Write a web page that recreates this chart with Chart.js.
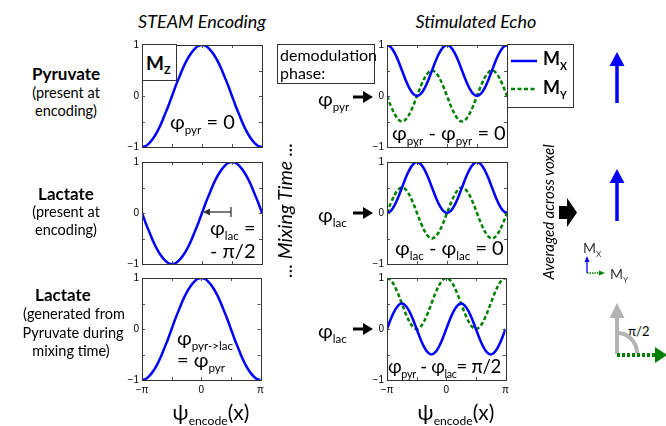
<!DOCTYPE html>
<html>
<head>
<meta charset="utf-8">
<script src="https://cdn.jsdelivr.net/npm/chart.js@4.4.1/dist/chart.umd.min.js"></script>
<style>
  body { margin: 0; background: #fff; }
  #fig { position: relative; width: 666px; height: 426px; overflow: hidden; font-family: Lato, "Open Sans", sans-serif; color: #000; }
  canvas { position: absolute; }
  .t { position: absolute; white-space: nowrap; line-height: 1; }
  .c { transform: translate(-50%, -50%); }
  .l { transform: translate(0, -50%); }
  .v { transform: translate(-50%, -50%) rotate(-90deg); font-style: italic; }
  .it { font-style: italic; }
  .b { font-weight: bold; }
  .phi { font-size: 20px; }
  sub { font-size: 58%; vertical-align: -0.45em; line-height: 0; }
  .box { position: absolute; border: 1px solid #333; background: #fff; box-sizing: border-box; }
</style>
</head>
<body>
<div id="fig">
  <canvas id="encPyr" width="150" height="127"></canvas>
  <canvas id="encLac" width="150" height="127"></canvas>
  <canvas id="encConv" width="150" height="127"></canvas>
  <canvas id="echoPyr" width="150" height="127"></canvas>
  <canvas id="echoLac" width="150" height="127"></canvas>
  <canvas id="echoConv" width="150" height="127"></canvas>

  <!-- column titles -->
  <div class="t c it" style="left:202px;top:21px;font-size:18px">STEAM Encoding</div>
  <div class="t c it" style="left:476px;top:21px;font-size:18px">Stimulated Echo</div>

  <!-- row labels -->
  <div class="t c b" style="left:66px;top:73px;font-size:17px">Pyruvate</div>
  <div class="t c" style="left:66px;top:93px;font-size:14.5px">(present at</div>
  <div class="t c" style="left:66px;top:111px;font-size:14.5px">encoding)</div>
  <div class="t c b" style="left:66px;top:193px;font-size:17px">Lactate</div>
  <div class="t c" style="left:66px;top:212px;font-size:14.5px">(present at</div>
  <div class="t c" style="left:66px;top:230px;font-size:14.5px">encoding)</div>
  <div class="t c b" style="left:63px;top:294px;font-size:17px">Lactate</div>
  <div class="t c" style="left:74px;top:314px;font-size:14.5px">(generated from</div>
  <div class="t c" style="left:73px;top:333px;font-size:14.5px">Pyruvate during</div>
  <div class="t c" style="left:71px;top:351px;font-size:14.5px">mixing time)</div>

  <!-- encoding annotations -->
  <div class="box" style="left:142px;top:44px;width:35px;height:37px"></div>
  <div class="t l b" style="left:146px;top:62px;font-size:19px">M<sub>Z</sub></div>
  <div class="t l phi" style="left:170px;top:121px">φ<sub>pyr</sub> = 0</div>
  <div class="t l phi" style="left:210px;top:227px">φ<sub>lac</sub> =</div>
  <div class="t l phi" style="left:210px;top:250px">- π/2</div>
  <div class="t l phi" style="left:177px;top:337px">φ<sub>pyr-&gt;lac</sub></div>
  <div class="t l phi" style="left:177px;top:359px">= φ<sub>pyr</sub></div>

  <!-- demodulation -->
  <div class="box" style="left:277px;top:44px;width:98px;height:40px"></div>
  <div class="t l" style="left:280px;top:55px;font-size:16px">demodulation</div>
  <div class="t l" style="left:280px;top:73px;font-size:16px">phase:</div>
  <div class="t l phi" style="left:318px;top:98px">φ<sub>pyr</sub></div>
  <div class="t l phi" style="left:318px;top:214px">φ<sub>lac</sub></div>
  <div class="t l phi" style="left:318px;top:330px">φ<sub>lac</sub></div>

  <!-- echo annotations -->
  <div class="t l phi" style="left:392px;top:132px">φ<sub>pyr</sub> - φ<sub>pyr</sub> = 0</div>
  <div class="t l phi" style="left:395px;top:247px">φ<sub>lac</sub> - φ<sub>lac</sub> = 0</div>
  <div class="t l phi" style="left:388px;top:366px;font-size:18.5px;letter-spacing:-0.3px">φ<sub>pyr</sub> - φ<sub>lac</sub>= π/2</div>

  <!-- x axis titles -->
  <div class="t c" style="left:211px;top:411px;font-size:21px">ψ<sub>encode</sub>(x)</div>
  <div class="t c" style="left:456px;top:411px;font-size:21px">ψ<sub>encode</sub>(x)</div>

  <!-- vertical labels -->
  <div class="t v" style="left:285px;top:210px;font-size:19.5px">... Mixing Time ...</div>
  <div class="t v" style="left:548px;top:212px;font-size:15px">Averaged across voxel</div>

  <!-- legend -->
  <div class="box" style="left:507px;top:44px;width:67px;height:64px"></div>
  <div class="t l b" style="left:543px;top:58px;font-size:18px">M<sub>X</sub></div>
  <div class="t l b" style="left:543px;top:87px;font-size:18px">M<sub>Y</sub></div>

  <!-- small axes / phase sketch labels -->
  <div class="t l" style="left:583px;top:248px;font-size:14px;color:#333">M<sub>X</sub></div>
  <div class="t l" style="left:610px;top:274px;font-size:14px;color:#333">M<sub>Y</sub></div>
  <div class="t l" style="left:628px;top:331px;font-size:13px">π/2</div>

  <svg width="666" height="426" style="position:absolute;left:0;top:0">
    <line x1="511" y1="61" x2="537" y2="61" stroke="#0000ff" stroke-width="2.5"/>
    <line x1="511" y1="89" x2="537" y2="89" stroke="#008000" stroke-width="2.5" stroke-dasharray="4 2.5"/>

    <line x1="353" y1="97" x2="365" y2="97" stroke="#000" stroke-width="3"/>
    <polygon points="363,91 373,97 363,103" fill="#000"/>
    <line x1="353" y1="213" x2="365" y2="213" stroke="#000" stroke-width="3"/>
    <polygon points="363,207 373,213 363,219" fill="#000"/>
    <line x1="353" y1="329" x2="365" y2="329" stroke="#000" stroke-width="3"/>
    <polygon points="363,323 373,329 363,335" fill="#000"/>

    <line x1="206" y1="212" x2="231" y2="212" stroke="#333" stroke-width="1.3"/>
    <polygon points="203,212 210,208.5 210,215.5" fill="#333"/>
    <line x1="231" y1="207" x2="231" y2="217" stroke="#333" stroke-width="1.3"/>

    <polygon points="559,206 567,206 567,198 577,212.5 567,227 567,219 559,219" fill="#000"/>

    <line x1="617" y1="103" x2="617" y2="63" stroke="#0000ff" stroke-width="3.5"/>
    <polygon points="609.5,66 617,52 624.5,66" fill="#0000ff"/>
    <line x1="617" y1="221" x2="617" y2="180" stroke="#0000ff" stroke-width="3.5"/>
    <polygon points="609.5,183 617,169 624.5,183" fill="#0000ff"/>

    <line x1="587" y1="273" x2="587" y2="261" stroke="#0000ff" stroke-width="1.3"/>
    <polygon points="584.5,262 587,256 589.5,262" fill="#0000ff"/>
    <line x1="587" y1="273" x2="600" y2="273" stroke="#008000" stroke-width="1.3" stroke-dasharray="1.5 1"/>
    <polygon points="599,270.5 605,273 599,275.5" fill="#008000"/>

    <line x1="617" y1="354" x2="617" y2="316" stroke="#b3b3b3" stroke-width="4"/>
    <polygon points="609.5,318 617,303 624.5,318" fill="#b3b3b3"/>
    <path d="M617,333 A20,20 0 0 1 637,353" stroke="#b3b3b3" stroke-width="4" fill="none"/>
    <line x1="617" y1="355" x2="656" y2="355" stroke="#008000" stroke-width="4" stroke-dasharray="3 2"/>
    <polygon points="655,347 667,355 655,363" fill="#008000"/>
  </svg>
</div>

<script>
// x positions in units of pi (-pi .. pi)
const xPi = [-1, -0.9375, -0.875, -0.8125, -0.75, -0.6875, -0.625, -0.5625, -0.5,
  -0.4375, -0.375, -0.3125, -0.25, -0.1875, -0.125, -0.0625, 0,
  0.0625, 0.125, 0.1875, 0.25, 0.3125, 0.375, 0.4375, 0.5,
  0.5625, 0.625, 0.6875, 0.75, 0.8125, 0.875, 0.9375, 1];

// STEAM encoding (Mz)
const encodePyr = [-1, -0.98, -0.92, -0.83, -0.71, -0.56, -0.38, -0.2, 0, 0.2, 0.38, 0.56, 0.71, 0.83, 0.92, 0.98, 1,
  0.98, 0.92, 0.83, 0.71, 0.56, 0.38, 0.2, 0, -0.2, -0.38, -0.56, -0.71, -0.83, -0.92, -0.98, -1];
const encodeLac = [0, -0.2, -0.38, -0.56, -0.71, -0.83, -0.92, -0.98, -1, -0.98, -0.92, -0.83, -0.71, -0.56, -0.38, -0.2, 0,
  0.2, 0.38, 0.56, 0.71, 0.83, 0.92, 0.98, 1, 0.98, 0.92, 0.83, 0.71, 0.56, 0.38, 0.2, 0];
const encodePyrToLac = [-1, -0.98, -0.92, -0.83, -0.71, -0.56, -0.38, -0.2, 0, 0.2, 0.38, 0.56, 0.71, 0.83, 0.92, 0.98, 1,
  0.98, 0.92, 0.83, 0.71, 0.56, 0.38, 0.2, 0, -0.2, -0.38, -0.56, -0.71, -0.83, -0.92, -0.98, -1];

// Stimulated echo (Mx, My)
const echoPyrMx = [1, 0.96, 0.85, 0.69, 0.5, 0.31, 0.15, 0.04, 0, 0.04, 0.15, 0.31, 0.5, 0.69, 0.85, 0.96, 1,
  0.96, 0.85, 0.69, 0.5, 0.31, 0.15, 0.04, 0, 0.04, 0.15, 0.31, 0.5, 0.69, 0.85, 0.96, 1];
const echoPyrMy = [0, -0.19, -0.35, -0.46, -0.5, -0.46, -0.35, -0.19, 0, 0.19, 0.35, 0.46, 0.5, 0.46, 0.35, 0.19, 0,
  -0.19, -0.35, -0.46, -0.5, -0.46, -0.35, -0.19, 0, 0.19, 0.35, 0.46, 0.5, 0.46, 0.35, 0.19, 0];
const echoLacMx = [0, 0.04, 0.15, 0.31, 0.5, 0.69, 0.85, 0.96, 1, 0.96, 0.85, 0.69, 0.5, 0.31, 0.15, 0.04, 0,
  0.04, 0.15, 0.31, 0.5, 0.69, 0.85, 0.96, 1, 0.96, 0.85, 0.69, 0.5, 0.31, 0.15, 0.04, 0];
const echoLacMy = [0, 0.19, 0.35, 0.46, 0.5, 0.46, 0.35, 0.19, 0, -0.19, -0.35, -0.46, -0.5, -0.46, -0.35, -0.19, 0,
  0.19, 0.35, 0.46, 0.5, 0.46, 0.35, 0.19, 0, -0.19, -0.35, -0.46, -0.5, -0.46, -0.35, -0.19, 0];
const echoConvMx = [0, 0.19, 0.35, 0.46, 0.5, 0.46, 0.35, 0.19, 0, -0.19, -0.35, -0.46, -0.5, -0.46, -0.35, -0.19, 0,
  0.19, 0.35, 0.46, 0.5, 0.46, 0.35, 0.19, 0, -0.19, -0.35, -0.46, -0.5, -0.46, -0.35, -0.19, 0];
const echoConvMy = [1, 0.96, 0.85, 0.69, 0.5, 0.31, 0.15, 0.04, 0, 0.04, 0.15, 0.31, 0.5, 0.69, 0.85, 0.96, 1,
  0.96, 0.85, 0.69, 0.5, 0.31, 0.15, 0.04, 0, 0.04, 0.15, 0.31, 0.5, 0.69, 0.85, 0.96, 1];

// axis ticks
const xTickValues = [-1, -0.5, 0, 0.5, 1];
const xTickLabels = ['−π', '', '0', '', 'π'];
const yTickValues = [-1, -0.5, 0, 0.5, 1];
const yTickLabels = ['−1', '', '0', '', '1'];

// plot area geometry (px)
const AXIS_W = 24, PAD_T = 8, PAD_R = 6, AXIS_H = 16;
const PLOT_W = 120, PLOT_H = 103;

const BLUE = '#0000ff';
const GREEN = '#008000';

// Box around the axes with small inward tick marks (MATLAB style)
const boxPlugin = {
  id: 'axesBox',
  afterDatasetsDraw(chart) {
    const { ctx, chartArea: a, scales } = chart;
    ctx.save();
    ctx.strokeStyle = '#555';
    ctx.lineWidth = 1;
    ctx.beginPath();
    xTickValues.slice(1, -1).forEach(v => {
      const px = Math.round(scales.x.getPixelForValue(v)) + 0.5;
      ctx.moveTo(px, a.top); ctx.lineTo(px, a.top + 3);
      ctx.moveTo(px, a.bottom); ctx.lineTo(px, a.bottom - 3);
    });
    yTickValues.slice(1, -1).forEach(v => {
      const py = Math.round(scales.y.getPixelForValue(v)) + 0.5;
      ctx.moveTo(a.left, py); ctx.lineTo(a.left + 3, py);
      ctx.moveTo(a.right, py); ctx.lineTo(a.right - 3, py);
    });
    ctx.stroke();
    ctx.strokeStyle = '#333';
    ctx.strokeRect(Math.round(a.left) + 0.5, Math.round(a.top) + 0.5,
      Math.round(a.right - a.left), Math.round(a.bottom - a.top));
    ctx.restore();
  }
};

const makePlot = (canvasId, left, top, series, showXLabels) => {
  const canvas = document.getElementById(canvasId);
  canvas.width = AXIS_W + PLOT_W + PAD_R;
  canvas.height = PAD_T + PLOT_H + AXIS_H;
  canvas.style.left = (left - AXIS_W) + 'px';
  canvas.style.top = (top - PAD_T) + 'px';

  const tickFont = { family: '"Liberation Sans", Arial, sans-serif', size: 10 };

  return new Chart(canvas.getContext('2d'), {
    type: 'line',
    data: {
      datasets: series.map(s => ({
        data: xPi.map((x, i) => ({ x, y: s.values[i] })),
        borderColor: s.color,
        borderWidth: 2.5,
        borderDash: s.dash || [],
        pointRadius: 0,
        fill: false,
        cubicInterpolationMode: 'monotone'
      }))
    },
    options: {
      responsive: false,
      animation: false,
      events: [],
      layout: { padding: { top: PAD_T, right: PAD_R, left: 0, bottom: 0 } },
      scales: {
        x: {
          type: 'linear',
          min: -1,
          max: 1,
          afterBuildTicks: (scale) => { scale.ticks = xTickValues.map(v => ({ value: v })); },
          afterFit: (scale) => { scale.height = AXIS_H; },
          grid: { display: false, drawTicks: false },
          border: { display: false },
          ticks: {
            display: showXLabels,
            autoSkip: false,
            maxRotation: 0,
            padding: 4,
            color: '#000',
            font: tickFont,
            callback: (value, index) => xTickLabels[index]
          }
        },
        y: {
          type: 'linear',
          min: -1,
          max: 1,
          afterBuildTicks: (scale) => { scale.ticks = yTickValues.map(v => ({ value: v })); },
          afterFit: (scale) => { scale.width = AXIS_W; },
          grid: { display: false, drawTicks: false },
          border: { display: false },
          ticks: {
            autoSkip: false,
            padding: 3,
            color: '#000',
            font: tickFont,
            callback: (value, index) => yTickLabels[index]
          }
        }
      },
      plugins: {
        legend: { display: false },
        tooltip: { enabled: false }
      }
    },
    plugins: [boxPlugin]
  });
};

const ENC_LEFT = 142, ECHO_LEFT = 387;
const ROW_TOPS = [44, 161, 277];

makePlot('encPyr', ENC_LEFT, ROW_TOPS[0], [{ values: encodePyr, color: BLUE }], false);
makePlot('encLac', ENC_LEFT, ROW_TOPS[1], [{ values: encodeLac, color: BLUE }], false);
makePlot('encConv', ENC_LEFT, ROW_TOPS[2], [{ values: encodePyrToLac, color: BLUE }], true);

makePlot('echoPyr', ECHO_LEFT, ROW_TOPS[0], [
  { values: echoPyrMx, color: BLUE },
  { values: echoPyrMy, color: GREEN, dash: [4, 2.5] }
], false);
makePlot('echoLac', ECHO_LEFT, ROW_TOPS[1], [
  { values: echoLacMx, color: BLUE },
  { values: echoLacMy, color: GREEN, dash: [4, 2.5] }
], false);
makePlot('echoConv', ECHO_LEFT, ROW_TOPS[2], [
  { values: echoConvMx, color: BLUE },
  { values: echoConvMy, color: GREEN, dash: [4, 2.5] }
], true);
</script>
</body>
</html>
